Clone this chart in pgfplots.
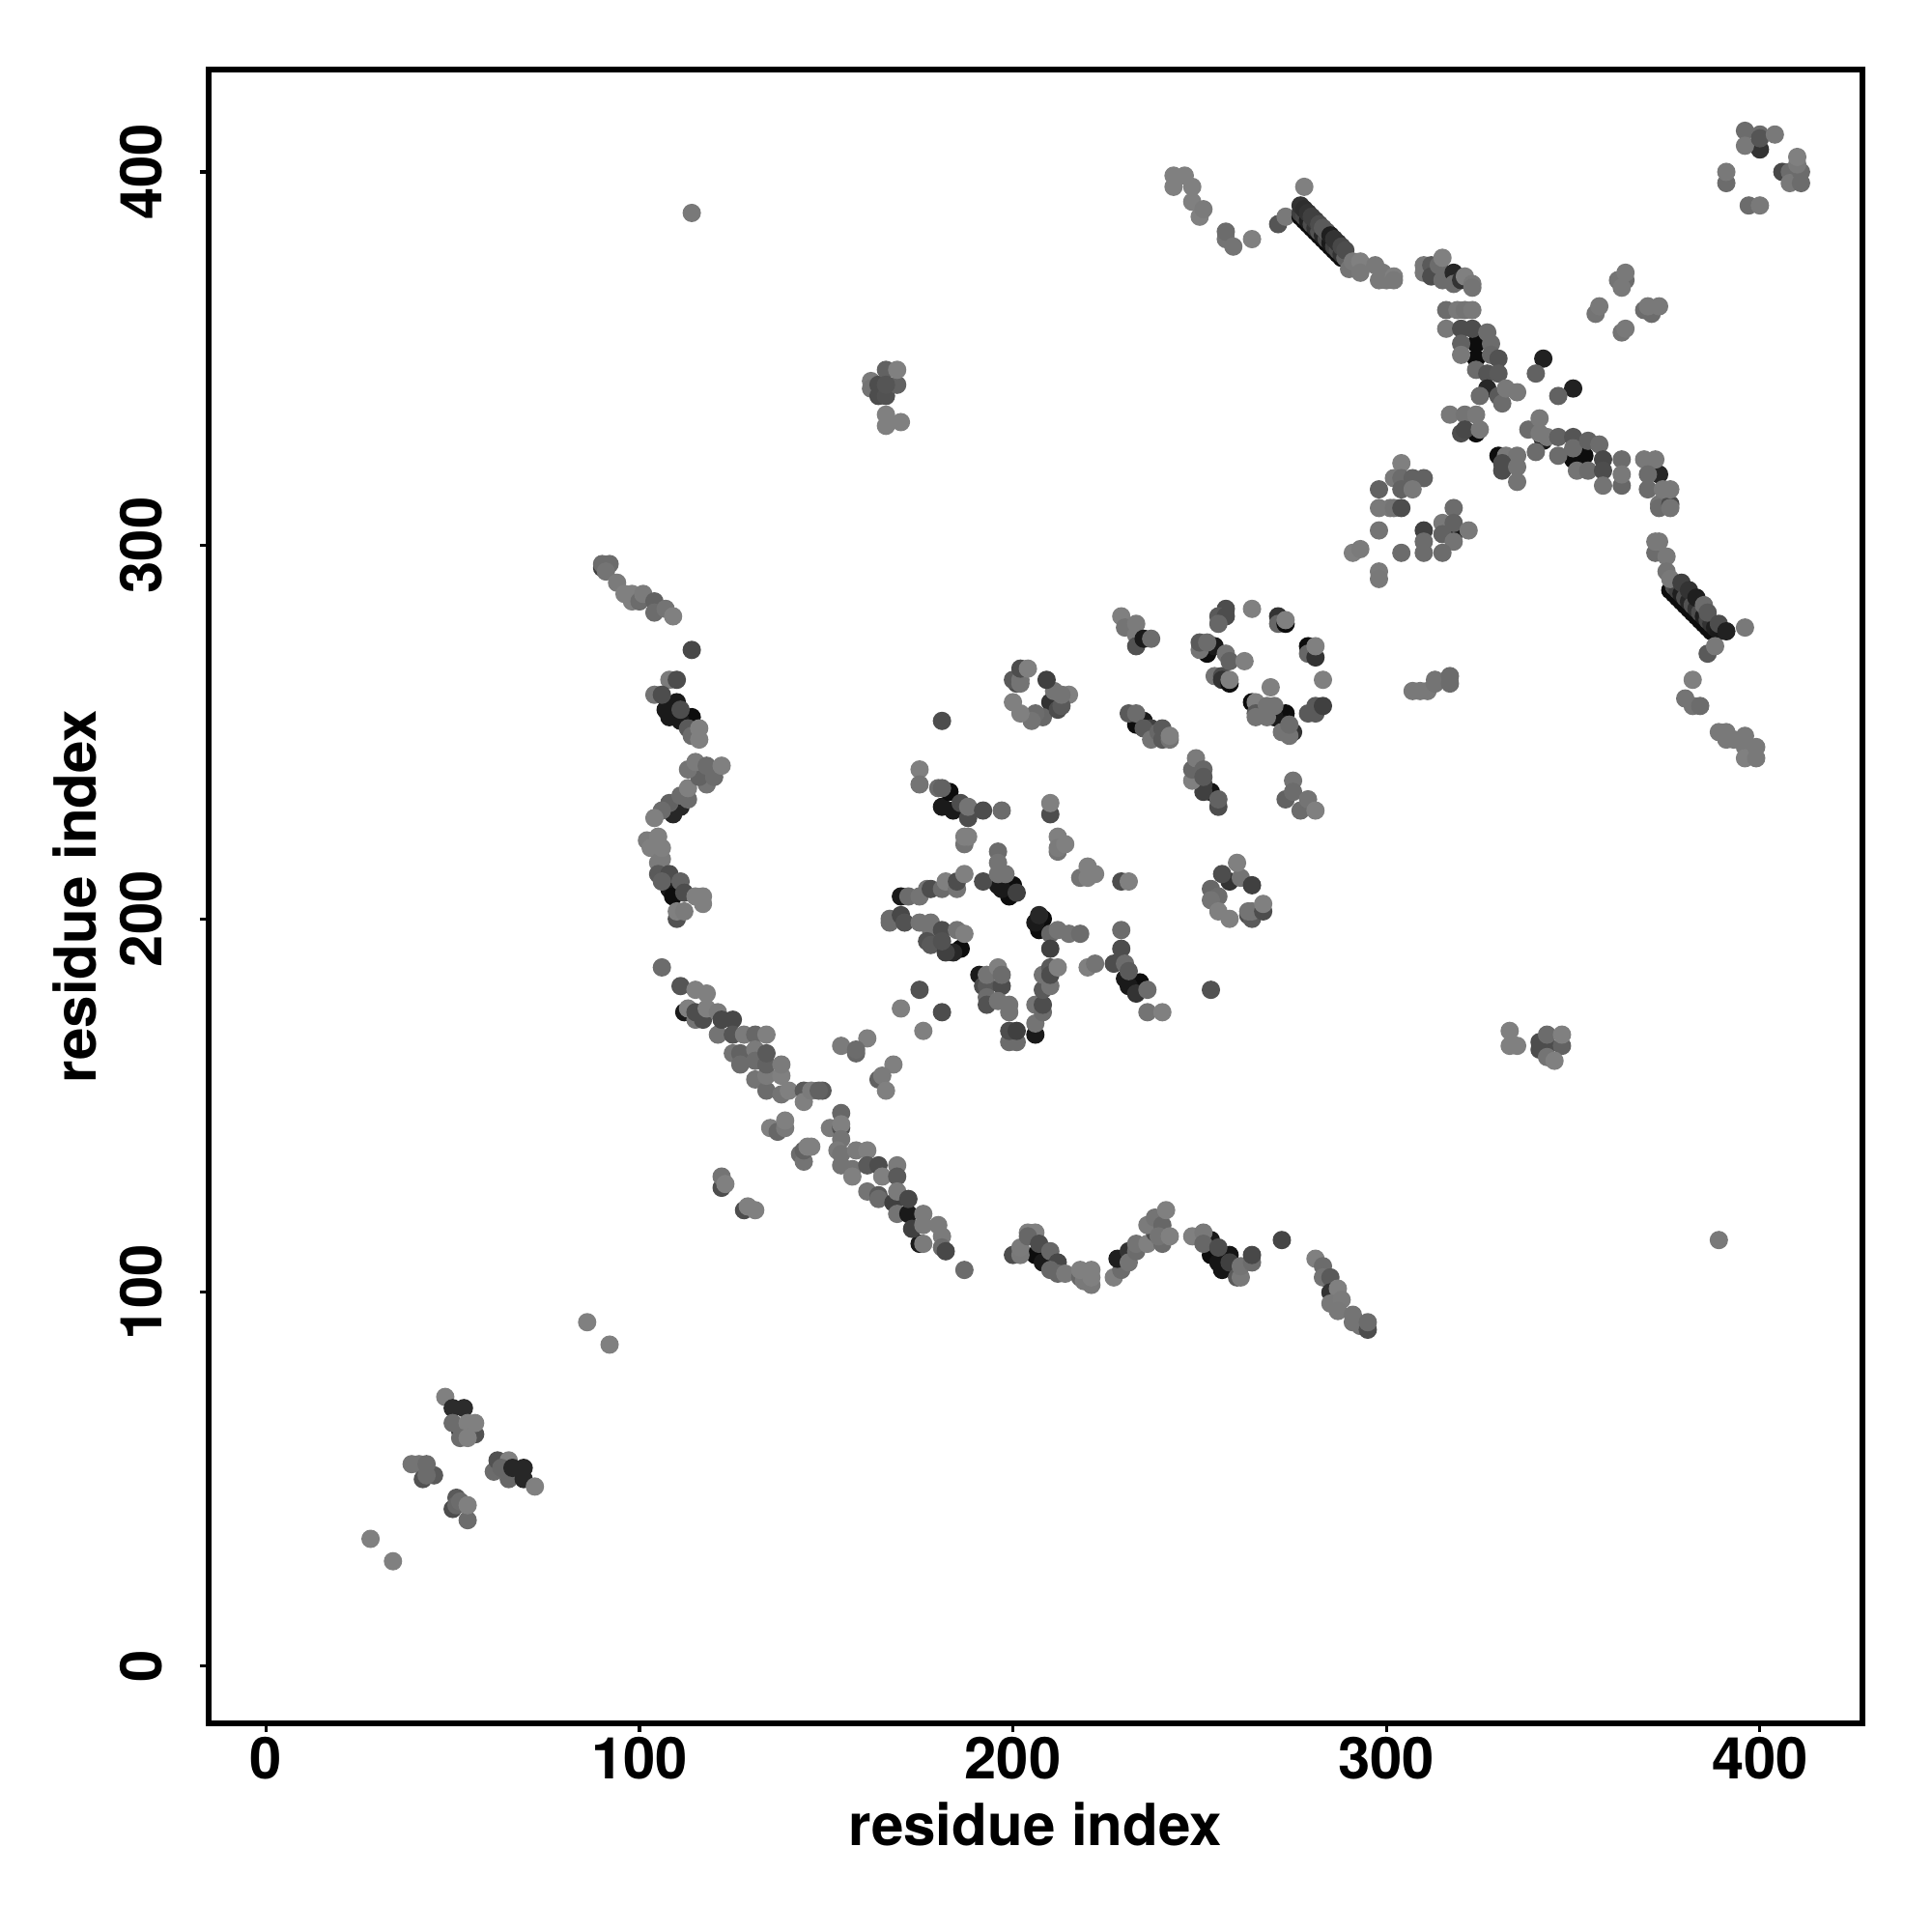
\documentclass[border=0pt]{standalone}
\usepackage{fontspec}
\setmainfont{TeX Gyre Heros}
\usepackage{pgfplots}
\pgfplotsset{compat=1.18}
\begin{document}
\begin{tikzpicture}
\path[use as bounding box] (-2.158cm,-2.16cm) rectangle (17.842cm,17.84cm);
\begin{axis}[
    scale only axis,
    width=17.12cm,
    height=17.12cm,
    xmin=-15.4, xmax=427.4,
    ymin=-15.4, ymax=427.4,
    xtick={0,100,200,300,400},
    ytick={0,100,200,300,400},
    xtick pos=bottom,
    ytick pos=left,
    tick align=outside,
    major tick length=0.09cm,
    tick style={line width=0.9pt,black},
    axis line style={line width=1.7pt},
    /pgf/number format/assume math mode=true,
    tick label style={font=\fontsize{17}{20}\selectfont\bfseries},
    label style={font=\fontsize{17.1}{20}\selectfont\bfseries},
    xticklabel style={anchor=base,yshift=-0.48cm},
    yticklabel style={rotate=90,anchor=base,yshift=0.39cm},
    xlabel={residue index},
    ylabel={residue index},
    xlabel style={at={(axis description cs:0.5,-0.0741)},anchor=base},
    ylabel style={at={(axis description cs:-0.0677,0.5)},anchor=base},
    colormap={greys}{gray(0cm)=(0); gray(1cm)=(1)},
    point meta min=0,
    point meta max=1,
]
\addplot[
    scatter,
    only marks,
    mark=*,
    mark size=2.5pt,
    point meta=explicit,
    scatter/use mapped color={draw=mapped color,fill=mapped color},
] coordinates {
(28,34)[.5] (34,28)[.5] (86,92)[.5] (92,86)[.5] (48,72)[.5] (114,389)[.47] (389,114)[.47]
% 50-70 cluster
(52,63)[.05] (50,69)[.17] (53,69)[.17] (50,65)[.42] (52,64)[.42] (54,65)[.5] (56,62)[.32] (56,65)[.5] (52,61)[.42] (54,61)[.5]
(39,54)[.45] (41,54)[.45] (42,50)[.32] (45,51)[.35] (43,51)[.42] (43,54)[.42]
(62,53)[.05] (61,52)[.42] (62,55)[.32] (65,55)[.5] (65,50)[.4] (63,53)[.4] (66,53)[.15] (69,53)[.15] (69,50)[.15] (72,48)[.5]
(50,42)[.3] (51,45)[.35] (51,43)[.4] (52,44)[.42] (54,39)[.42] (54,43)[.5]
% centre star
(175,240)[.5] (175,236)[.45] (181,230)[.1] (184,229)[.1] (183,234)[.05] (180,235)[.42] (181,235)[.38] (186,231)[.3] (188,227)[.3] (188,230)[.45] (192,229)[.3] (197,229)[.42]
(187,220)[.45] (187,222)[.5] (188,222)[.5]
(200,209)[.05] (199,206)[.05] (197,208)[.1] (196,209)[.1] (192,210)[.3] (196,218)[.42] (196,215)[.45] (196,212)[.45] (198,212)[.45] (201,207)[.25]
(210,228)[.3] (210,231)[.5] (212,218)[.45] (212,222)[.5] (212,219)[.48] (214,220)[.5]
(218,211)[.45] (220,214)[.5] (220,211)[.5] (222,212)[.5] (229,210)[.3] (231,210)[.5]
(170,206)[.1] (172,206)[.42] (175,206)[.45] (177,208)[.45] (178,208)[.3] (181,208)[.42] (182,210)[.5] (185,208)[.45] (185,210)[.3] (187,212)[.5]
(167,200)[.42] (167,199)[.42] (170,201)[.28] (171,199)[.32] (175,199)[.45] (178,199)[.45] (178,197)[.45] (177,194)[.32] (178,193)[.35]
(186,192)[.05] (184,191)[.15] (182,191)[.25] (181,197)[.3] (181,194)[.32] (185,197)[.45] (187,196)[.5]
(208,200)[.05] (207,197)[.05] (206,199)[.1] (207,201)[.15] (210,196)[.4] (212,197)[.45] (215,196)[.45] (218,196)[.42] (210,192)[.25]
(234,183)[.05] (230,184)[.1] (231,182)[.1] (233,180)[.2] (227,188)[.3] (229,197)[.42] (229,192)[.3] (230,188)[.42] (231,186)[.35] (236,181)[.42]
(236,175)[.45] (240,175)[.5] (220,187)[.5] (222,188)[.45] (253,181)[.32] (181,253)[.3]
(191,185)[.1] (192,182)[.3] (193,182)[.35] (193,179)[.42] (193,177)[.32] (193,185)[.45] (196,187)[.5] (197,182)[.3] (197,185)[.42] (196,178)[.45] (199,177)[.45] (199,175)[.45]
(199,167)[.42] (201,167)[.42] (199,170)[.3] (201,170)[.25]
(206,169)[.1] (206,172)[.45] (206,177)[.45] (208,175)[.42] (208,177)[.3] (208,181)[.35] (210,182)[.45] (208,185)[.45] (210,187)[.35] (210,185)[.3] (212,187)[.5]
(175,181)[.32] (170,176)[.5] (181,175)[.3] (176,170)[.5]
(161,168)[.5] (154,166)[.48] (158,164)[.4] (158,165)[.42] (168,161)[.5] (164,157)[.38] (165,158)[.48] (166,154)[.5] (149,154)[.35]
% ring at 255,205 and mirror
(258,210)[.2] (253,208)[.4] (256,212)[.3] (255,206)[.42] (253,205)[.45] (261,211)[.45] (260,215)[.5] (264,209)[.25] (255,202)[.5] (258,200)[.5] (263,201)[.3] (264,200)[.35] (263,202)[.45] (264,202)[.45] (267,202)[.3] (267,204)[.5]
(210,258)[.2] (208,254)[.4] (212,256)[.3] (206,255)[.42] (205,253)[.45] (211,261)[.45] (215,260)[.5] (209,264)[.25] (202,255)[.5] (200,258)[.5] (201,263)[.3] (200,264)[.35] (202,263)[.45] (202,264)[.45] (202,267)[.3] (204,267)[.5]
% 230-285, 230-285 group
(229,281)[.5] (230,278)[.45] (233,279)[.48] (233,276)[.48] (233,273)[.32] (235,275)[.1] (237,275)[.42]
(257,283)[.3] (255,281)[.35] (257,281)[.3] (255,279)[.4] (264,283)[.5]
(271,281)[.2] (271,279)[.4] (273,279)[.05] (273,280)[.5]
(279,273)[.05] (279,271)[.4] (281,270)[.2] (281,273)[.5] (283,264)[.5]
(279,255)[.35] (281,255)[.35] (281,257)[.35] (283,257)[.25]
(252,271)[.05] (254,273)[.1] (250,272)[.45] (250,274)[.35] (252,274)[.42] (254,265)[.45] (256,265)[.3] (256,264)[.2] (257,271)[.45] (258,263)[.05] (258,264)[.5] (258,269)[.38] (262,269)[.5]
(264,258)[.05] (273,255)[.05] (273,252)[.1] (270,254)[.1] (265,258)[.5] (265,255)[.35] (265,254)[.45] (269,262)[.5] (268,257)[.45] (270,257)[.45] (268,254)[.45] (272,250)[.45] (275,250)[.2] (274,249)[.45] (274,252)[.42]
(233,252)[.05] (235,253)[.1] (231,255)[.35] (233,255)[.42] (237,251)[.25] (235,251)[.35] (237,248)[.45] (239,250)[.4] (240,251)[.35] (240,248)[.35] (242,248)[.45] (242,249)[.5]
(253,234)[.08] (251,236)[.25] (251,234)[.25] (248,237)[.5] (248,240)[.4] (249,243)[.48] (251,240)[.4] (251,238)[.35] (255,230)[.3] (255,232)[.38]
(273,232)[.38] (275,237)[.45] (275,234)[.42] (277,229)[.42] (279,232)[.45] (281,229)[.5]
(213,257)[.35] (213,260)[.45]
% upper left arc
(90,294)[.25] (90,295)[.42] (92,295)[.42] (91,293)[.45] (94,290)[.48] (96,287)[.5] (98,287)[.5] (98,285)[.5] (100,285)[.42] (101,287)[.48] (104,285)[.38] (104,282)[.42] (107,283)[.45] (109,281)[.5]
(114,272)[.28]
(110,258)[.1] (107,256)[.1] (108,254)[.1] (114,254)[.05] (111,253)[.1] (108,264)[.48] (110,264)[.3] (104,260)[.45] (106,260)[.3] (111,256)[.3] (113,251)[.35] (114,249)[.42] (116,251)[.5] (116,248)[.5]
(111,230)[.15] (109,228)[.15] (108,231)[.38] (111,233)[.42] (113,232)[.42] (106,229)[.42] (104,227)[.5] (113,235)[.5] (118,236)[.45] (116,238)[.38] (113,240)[.45] (115,242)[.48] (118,241)[.42] (120,238)[.42] (122,241)[.5]
(102,221)[.48] (103,219)[.5] (105,215)[.48] (106,216)[.48] (106,219)[.5] (105,222)[.5]
(108,208)[.1] (109,206)[.05] (105,212)[.35] (108,212)[.3] (106,210)[.38] (111,210)[.38] (112,207)[.3] (115,206)[.5] (117,206)[.5] (117,204)[.5] (110,200)[.32] (110,202)[.5] (112,202)[.48]
% long arc
(106,187)[.42]
(112,175)[.1] (111,182)[.33] (115,181)[.5] (118,180)[.5] (113,176)[.5] (115,173)[.45] (117,173)[.3] (115,175)[.3] (118,176)[.5] (121,175)[.48] (121,169)[.45] (122,173)[.28] (125,173)[.28] (125,169)[.33]
(128,169)[.48] (131,169)[.4] (134,169)[.5]
(125,164)[.45] (127,164)[.38] (127,161)[.42] (131,165)[.48] (131,162)[.42] (131,157)[.45] (134,154)[.42] (134,158)[.48] (134,161)[.38] (134,164)[.35] (138,153)[.45] (138,158)[.5] (138,161)[.48] (140,154)[.5] (144,154)[.35] (144,151)[.5] (146,154)[.48] (148,154)[.38]
(135,144)[.5] (137,143)[.4] (139,144)[.47] (139,146)[.5]
(143,137)[.42] (144,135)[.45] (144,138)[.38] (145,139)[.5] (146,139)[.5]
(122,128)[.3] (122,131)[.45] (123,129)[.5] (128,122)[.3] (129,123)[.5] (131,122)[.5]
(151,144)[.48] (154,148)[.4] (154,144)[.32] (154,145)[.5] (154,141)[.45] (153,138)[.48] (154,137)[.45] (154,134)[.45]
(157,133)[.45] (157,131)[.5] (158,138)[.48] (161,138)[.5] (161,134)[.35] (161,127)[.45] (164,134)[.3] (164,126)[.35] (164,125)[.42] (165,131)[.5]
(169,134)[.48] (169,131)[.35] (168,124)[.25] (169,127)[.48] (169,121)[.45] (172,121)[.1] (175,113)[.1] (172,125)[.28] (173,117)[.25] (176,121)[.48] (176,118)[.48] (176,113)[.48]
(180,118)[.48] (181,115)[.48] (181,112)[.42] (182,111)[.28] (187,106)[.42]
% bottom wave
(206,110)[.05] (200,110)[.3] (202,110)[.47] (202,112)[.48] (204,116)[.5] (206,116)[.5] (204,115)[.4] (207,113)[.3]
(208,108)[.1] (210,111)[.4] (212,108)[.28] (210,106)[.4] (212,105)[.4] (214,105)[.47] (218,104)[.4] (219,103)[.47] (221,102)[.47] (218,106)[.5] (221,106)[.5] (221,104)[.5]
(227,104)[.5] (229,106)[.42] (228,109)[.12] (231,111)[.2] (231,108)[.45] (233,111)[.42] (233,113)[.45] (236,113)[.5]
(238,116)[.3] (240,113)[.42] (236,118)[.48] (238,120)[.45] (240,118)[.4] (239,115)[.45] (241,122)[.5] (242,115)[.5]
(253,110)[.05] (253,114)[.1] (258,110)[.08] (255,108)[.08] (256,106)[.08] (248,115)[.5] (251,116)[.47] (251,113)[.4] (255,112)[.3] (258,108)[.25] (260,104)[.35] (261,104)[.47] (261,107)[.45] (264,108)[.42] (264,110)[.28]
(272,114)[.27]
(281,109)[.5] (283,107)[.42] (283,104)[.45] (285,104)[.35] (285,100)[.2] (287,101)[.5] (285,97)[.47] (288,98)[.48] (287,95)[.47] (291,94)[.45] (291,92)[.45] (293,91)[.45] (295,90)[.3] (295,92)[.42]
% isolated clusters top
(162,344)[.48] (162,342)[.45] (164,343)[.3] (164,340)[.3] (166,340)[.32] (166,347)[.38] (169,343)[.38] (166,343)[.33] (169,347)[.5]
(166,335)[.5] (166,332)[.5] (170,333)[.5]
(243,399)[.5] (246,399)[.5] (243,396)[.5] (248,396)[.5] (248,392)[.5] (250,388)[.5] (251,390)[.48]
(257,382)[.45] (257,384)[.42] (259,380)[.45] (264,382)[.5] (271,386)[.33] (273,388)[.47] (278,396)[.5]
% long diagonal top
(277,388)[.05] (278,387)[.05] (279,386)[.05] (280,385)[.05] (281,384)[.05] (282,383)[.05] (283,382)[.05] (284,381)[.05] (285,380)[.05] (286,379)[.05] (287,378)[.05] (288,377)[.05]
(277,389)[.25] (278,388)[.28] (279,387)[.12] (280,386)[.3] (281,385)[.2] (282,384)[.32] (283,383)[.15] (284,382)[.3] (285,381)[.1] (286,380)[.25] (287,379)[.3] (288,378)[.2] (289,377)[.38]
(277,391)[.2] (278,390)[.18] (279,389)[.2] (280,388)[.25] (281,387)[.25] (282,386)[.3] (283,385)[.35] (284,384)[.35] (285,383)[.12] (286,382)[.2] (287,381)[.2] (288,380)[.28] (289,379)[.3]
(290,374)[.45] (291,376)[.47] (293,376)[.5] (293,373)[.47] (297,375)[.47] (298,371)[.47] (299,373)[.47] (300,371)[.47] (302,372)[.5] (302,371)[.47]
% upper right X
(310,375)[.47] (310,373)[.47] (312,375)[.35] (312,372)[.3] (314,375)[.42] (315,371)[.42] (315,377)[.5] (318,373)[.15] (318,370)[.42] (320,371)[.2] (321,372)[.5] (323,370)[.47] (323,369)[.45]
(316,363)[.42] (319,363)[.47] (321,363)[.45] (323,363)[.47]
(324,354)[.05] (324,350)[.05] (316,358)[.47] (320,358)[.3] (323,358)[.3] (327,357)[.42] (320,354)[.38] (320,351)[.47] (324,347)[.42] (328,354)[.42] (328,351)[.4] (327,346)[.33] (330,350)[.32] (330,346)[.35]
(327,342)[.15] (325,340)[.42] (330,340)[.35] (331,338)[.42] (332,342)[.47] (335,341)[.47]
(342,350)[.13] (340,346)[.38] (350,342)[.13] (346,340)[.38]
(324,330)[.05] (320,330)[.3] (317,335)[.47] (321,335)[.45] (324,335)[.47] (321,331)[.28] (325,331)[.47]
(330,324)[.05] (332,324)[.47] (335,324)[.45] (331,322)[.3] (331,320)[.3] (335,321)[.45] (335,317)[.45]
(342,328)[.1] (350,323)[.05] (353,324)[.05] (338,331)[.42] (341,334)[.47] (341,330)[.47] (340,325)[.42] (343,329)[.47] (346,329)[.38] (350,329)[.33] (346,324)[.42] (350,326)[.42] (354,328)[.38] (357,327)[.42] (351,320)[.45] (354,320)[.42] (358,323)[.28] (358,320)[.3] (358,316)[.45]
(363,323)[.42] (363,316)[.4] (363,319)[.47]
(373,319)[.15] (369,323)[.47] (372,323)[.47] (370,319)[.42] (370,315)[.42] (373,311)[.45] (373,310)[.42] (376,311)[.3] (376,310)[.45] (374,315)[.47] (376,315)[.47]
% 290-320 x 290-320
(304,322)[.5] (302,318)[.47] (304,318)[.42] (307,318)[.38] (310,318)[.38] (304,315)[.38] (307,315)[.47] (298,315)[.38]
(298,310)[.47] (301,310)[.47] (302,310)[.45] (304,310)[.3] (298,304)[.45] (304,298)[.42] (291,298)[.5] (293,299)[.48] (298,293)[.48] (298,291)[.47]
(318,303)[.1] (310,304)[.25] (310,301)[.42] (310,298)[.42] (315,306)[.47] (315,303)[.38] (318,310)[.42] (318,306)[.38] (318,301)[.45] (322,304)[.47] (315,298)[.42]
% lower right diagonal
(376,288)[.05] (377,287)[.05] (378,286)[.05] (379,285)[.05] (380,284)[.05] (381,283)[.05] (382,282)[.05] (383,281)[.05] (384,280)[.05] (385,279)[.05] (386,278)[.05] (387,277)[.05]
(377,289)[.3] (378,288)[.25] (379,287)[.12] (380,286)[.3] (381,285)[.15] (382,284)[.32] (383,283)[.2] (384,282)[.3] (385,281)[.12] (386,280)[.28] (387,279)[.2] (388,278)[.12] (389,277)[.1]
(372,298)[.42] (372,301)[.47] (373,301)[.47] (375,297)[.47] (375,293)[.45] (376,291)[.47] (379,290)[.25] (381,288)[.2] (383,286)[.12] (385,284)[.42] (386,282)[.35] (389,279)[.3] (391,277)[.13]
(396,278)[.47] (386,271)[.35] (388,273)[.47]
% top right corner
(400,406)[.2] (396,411)[.42] (400,410)[.42] (396,407)[.47] (400,409)[.33] (404,410)[.47]
(406,400)[.28] (408,400)[.42] (408,397)[.47] (411,397)[.42] (411,400)[.42] (410,402)[.47] (410,404)[.5]
(391,397)[.42] (391,400)[.47] (397,391)[.42] (400,391)[.47]
(364,371)[.42] (362,371)[.45] (364,373)[.47] (363,369)[.47] (356,362)[.45] (357,364)[.47] (369,363)[.42] (371,362)[.42] (370,364)[.47] (373,364)[.47] (363,357)[.45] (364,358)[.47]
% lower right clusters
(307,261)[.47] (309,261)[.47] (311,261)[.47] (313,264)[.45] (313,263)[.45] (317,265)[.42] (317,263)[.42]
(382,264)[.5] (380,259)[.45] (382,257)[.45] (384,257)[.42]
(389,250)[.47] (391,250)[.47] (391,248)[.47] (393,248)[.47] (396,249)[.47] (396,246)[.47] (396,243)[.5] (399,246)[.47] (399,243)[.47]
(333,170)[.5] (333,166)[.5] (335,166)[.5]
(341,167)[.3] (341,165)[.3] (343,166)[.3] (343,169)[.42] (347,166)[.38] (347,169)[.5] (343,163)[.45] (345,162)[.5]
};
\end{axis}
\end{tikzpicture}
\end{document}
